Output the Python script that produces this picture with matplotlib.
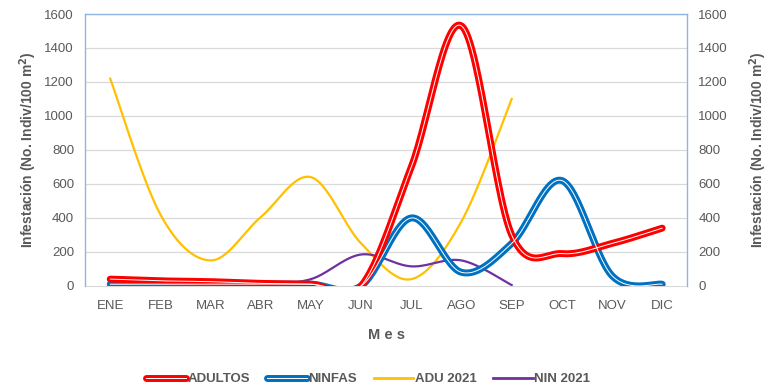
import numpy as np
import matplotlib.pyplot as plt
from matplotlib.lines import Line2D
from matplotlib.legend_handler import HandlerTuple

# ── Data ──────────────────────────────────────────────────────────────────────
MESES    = ['ENE', 'FEB', 'MAR', 'ABR', 'MAY', 'JUN', 'JUL', 'AGO', 'SEP', 'OCT', 'NOV', 'DIC']
ADULTOS  = [40, 30, 25, 15, 10, 0, 700, 1530, 300, 190, 250, 340]
NINFAS   = [10, 10, 10, 10, 10, 0, 400, 80, 250, 620, 60, 10]
ADU_2021 = [1220, 420, 150, 405, 640, 250, 40, 380, 1100]
NIN_2021 = [0, 0, 0, 10, 40, 185, 115, 150, 5]

GRAY = '#595959'
plt.rcParams['font.family'] = ['Liberation Sans', 'DejaVu Sans']


def smooth(y, n=30):
    # Catmull-Rom style smoothing, like Excel's "smoothed line"
    y = np.asarray(y, dtype=float)
    x = np.arange(len(y), dtype=float)
    px = np.concatenate([[x[0]], x, [x[-1]]])
    py = np.concatenate([[y[0]], y, [y[-1]]])
    xs, ys = [], []
    for i in range(len(y) - 1):
        p0, p1, p2, p3 = [np.array([px[j], py[j]]) for j in range(i, i + 4)]
        c1 = p1 + (p2 - p0) / 6
        c2 = p2 - (p3 - p1) / 6
        t = np.linspace(0, 1, n)[:, None]
        pts = ((1 - t) ** 3 * p1 + 3 * (1 - t) ** 2 * t * c1
               + 3 * (1 - t) * t ** 2 * c2 + t ** 3 * p2)
        xs.append(pts[:, 0]); ys.append(pts[:, 1])
    return np.concatenate(xs), np.concatenate(ys)


OUTER, INNER = 5.0, 0.7

fig = plt.figure(figsize=(7.74, 3.89), dpi=100)
ax = fig.add_axes([0.110, 0.265, 0.778, 0.699])

for y in range(200, 1601, 200):
    ax.axhline(y, color='#D9D9D9', lw=0.9, zorder=0)

sx, sy = smooth(ADU_2021)
ax.plot(sx, sy, color='#FFC000', lw=1.6, zorder=2)
sx, sy = smooth(NIN_2021)
ax.plot(sx, sy, color='#7030A0', lw=1.6, zorder=2)

for vals, col in [(NINFAS, '#0070C0'), (ADULTOS, '#FF0000')]:
    sx, sy = smooth(vals)
    ax.plot(sx, sy, color=col, lw=OUTER, zorder=3, solid_capstyle='round')
    ax.plot(sx, sy, color='white', lw=INNER, zorder=4, solid_capstyle='round')

ax.set_xlim(-0.5, 11.5)
ax.set_ylim(0, 1600)
ax.set_xticks(range(12))
ax.set_xticklabels(MESES)
ax.set_yticks(range(0, 1601, 200))
ax.tick_params(axis='both', length=0, labelsize=9.5, colors=GRAY, pad=8)
ax.tick_params(axis='x', pad=10)

for s in ['left', 'right', 'top']:
    ax.spines[s].set_color('#8EB4E3')
    ax.spines[s].set_linewidth(0.9)
ax.spines['bottom'].set_color('#D9D9D9')

ylab = 'Infestación (No. Indiv/100 m$^\\mathbf{2}$)'
ax.set_ylabel(ylab, fontsize=10, fontweight='bold', color=GRAY, labelpad=4)
ax.set_xlabel('M e s', fontsize=10.5, fontweight='bold', color=GRAY, labelpad=12)

ax2 = ax.twinx()
ax2.set_ylim(0, 1600)
ax2.set_yticks(range(0, 1601, 200))
ax2.tick_params(axis='y', length=0, labelsize=9.5, colors=GRAY, pad=8)
ax2.set_ylabel(ylab, fontsize=10, fontweight='bold', color=GRAY, labelpad=14)
for s in ['left', 'right', 'top']:
    ax2.spines[s].set_color('#8EB4E3')
ax2.spines['bottom'].set_visible(False)


def dbl(col):
    return (Line2D([], [], color=col, lw=OUTER, solid_capstyle='round'),
            Line2D([], [], color='white', lw=INNER))


handles = [dbl('#FF0000'), dbl('#0070C0'),
           Line2D([], [], color='#FFC000', lw=2),
           Line2D([], [], color='#7030A0', lw=2)]
labels = ['ADULTOS', 'NINFAS', 'ADU 2021', 'NIN 2021']
leg = fig.legend(handles, labels, loc='center', bbox_to_anchor=(0.476, 0.025), ncol=4,
                 frameon=False, handler_map={tuple: HandlerTuple(ndivide=1, pad=0)},
                 handlelength=3.0, handletextpad=0.1, columnspacing=1.3,
                 prop={'size': 9.5, 'weight': 'bold'})
for t in leg.get_texts():
    t.set_color(GRAY)

fig.savefig('out.png', dpi=100)
